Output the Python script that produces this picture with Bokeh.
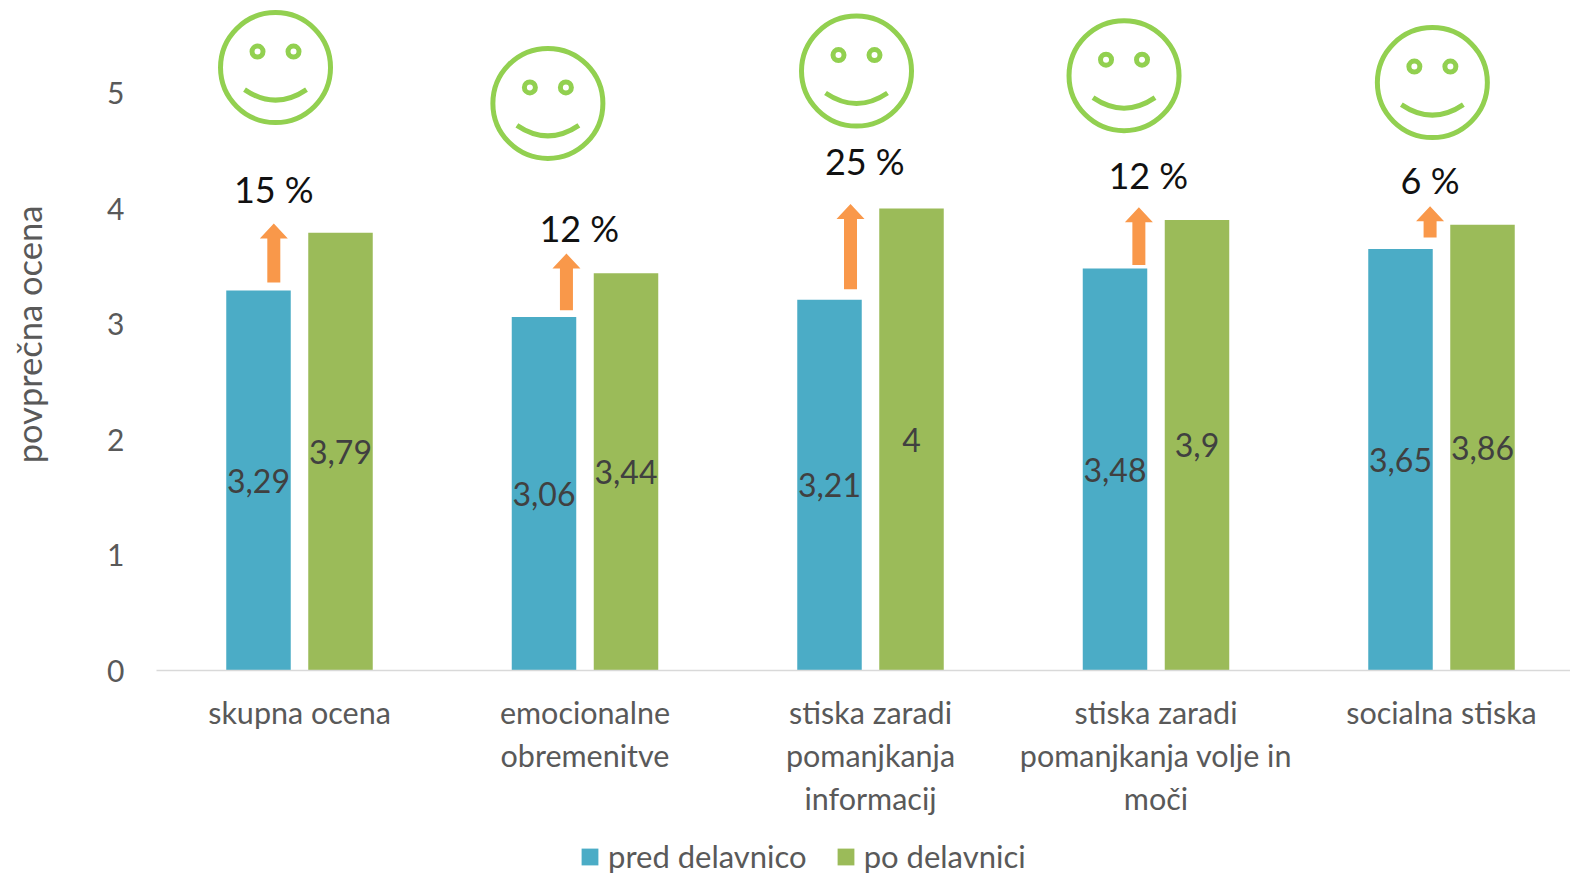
from bokeh.plotting import figure
from bokeh.embed import file_html
from bokeh.resources import INLINE
from bokeh.core.properties import value
from bokeh.models import Range1d, FixedTicker, Legend, LegendItem
import math

categories = ["skupna ocena", "emocionalne\nobremenitve", "stiska zaradi\npomanjkanja\ninformacij",
              "stiska zaradi\npomanjkanja volje in\nmoči", "socialna stiska"]
pred = [3.29, 3.06, 3.21, 3.48, 3.65]
po = [3.79, 3.44, 4, 3.9, 3.86]
pct = ["15 %", "12 %", "25 %", "12 %", "6 %"]
y_ticks = [0, 1, 2, 3, 4, 5]
y_title = "povprečna ocena"
arrow_base = [3.36, 3.12, 3.30, 3.51, 3.75]
arrow_tip = [3.87, 3.61, 4.04, 4.01, 4.02]
arrow_x = [-0.09, -0.065, -0.07, -0.06, -0.04]
pct_x = [-0.09, -0.02, -0.02, -0.027, -0.04]
pct_y = [4.17, 3.83, 4.41, 4.29, 4.25]
smile_x = [-0.084, -0.13, -0.049, -0.112, -0.032]
smile_y = [5.22, 4.91, 5.19, 5.15, 5.09]

BLUE, GREEN, ORANGE, SMILE = "#4BACC6", "#9BBB59", "#F9984A", "#92D050"
FONT = "Lato"
PX_X, PX_Y = 285.5, 115.5
idx = list(range(len(categories)))
X_LEFT = -143 / PX_X
X_RIGHT = (1570 - 299) / PX_X

p = figure(width=1570, height=875, output_backend="svg", toolbar_location=None,
           x_range=Range1d(-299 / PX_X, X_RIGHT),
           y_range=Range1d(-205 / PX_Y, 670 / PX_Y),
           min_border_left=0, min_border_right=0, min_border_top=0, min_border_bottom=0,
           outline_line_color=None, background_fill_color=None, border_fill_color=None)
p.grid.visible = False

off, w = 41 / PX_X, 64.5 / PX_X
b1 = p.vbar(x=[i - off for i in idx], top=pred, width=w, fill_color=BLUE, line_color=None)
b2 = p.vbar(x=[i + off for i in idx], top=po, width=w, fill_color=GREEN, line_color=None)

# value labels, centred in each bar
fmt = lambda v: str(v).replace(".", ",")
lab = dict(text_font=value(FONT), text_font_size="32px", text_color="#404040",
           text_align="center", text_baseline="middle")
p.text(x=[i - off for i in idx], y=[v / 2 for v in pred], text=[fmt(v) for v in pred], **lab)
p.text(x=[i + off for i in idx], y=[v / 2 for v in po], text=[fmt(v) for v in po], **lab)

# arrows
sw, hw, hh = 6.5 / PX_X, 14 / PX_X, 15 / PX_Y
ax, ay = [], []
for i, b, t, dx in zip(idx, arrow_base, arrow_tip, arrow_x):
    c = i + dx
    ax.append([c - sw, c + sw, c + sw, c + hw, c, c - hw, c - sw])
    ay.append([b, b, t - hh, t - hh, t, t - hh, t - hh])
p.patches(ax, ay, fill_color=ORANGE, line_color=None)

# percent labels
p.text(x=[i + d for i, d in zip(idx, pct_x)], y=pct_y, text=pct, text_font=value(FONT),
       text_font_size="36px", text_color="#111111", text_align="center", text_baseline="middle")

# smileys
sx = [i + d for i, d in zip(idx, smile_x)]
p.scatter(x=sx, y=smile_y, size=110, marker="circle", fill_color=None, line_color=SMILE, line_width=5)
ex = 18 / PX_X
ey = 16 / PX_Y
p.scatter(x=[c - ex for c in sx] + [c + ex for c in sx], y=[s + ey for s in smile_y] * 2,
          size=11, marker="circle", fill_color=None, line_color=SMILE, line_width=5)
mx = 31 / PX_X
p.quadratic(x0=[c - mx for c in sx], y0=[s - 22 / PX_Y for s in smile_y],
            x1=[c + mx for c in sx], y1=[s - 22 / PX_Y for s in smile_y],
            cx=sx, cy=[s - 43 / PX_Y for s in smile_y], line_color=SMILE, line_width=5)

# axes
xa, ya = p.xaxis[0], p.yaxis[0]
xa.fixed_location = 0
xa.bounds = (X_LEFT, X_RIGHT)
xa.ticker = FixedTicker(ticks=idx)
xa.major_label_overrides = {i: c for i, c in zip(idx, categories)}
xa.axis_line_color = "#D9D9D9"
xa.axis_line_width = 1.5
xa.major_tick_line_color = None
xa.minor_tick_line_color = None
xa.major_tick_out = 0
xa.minor_tick_out = 0
xa.major_label_text_font = FONT
xa.major_label_text_font_size = "30.5px"
xa.major_label_text_color = "#595959"
xa.major_label_standoff = 23

ya.fixed_location = X_LEFT
ya.ticker = FixedTicker(ticks=y_ticks)
ya.axis_line_color = None
ya.major_tick_line_color = None
ya.minor_tick_line_color = None
ya.major_tick_out = 0
ya.minor_tick_out = 0
ya.major_label_text_font = FONT
ya.major_label_text_font_size = "30px"
ya.major_label_text_color = "#595959"
ya.major_label_standoff = 32

# y axis title, beside the tick labels and centred on the 0-5.8 part of the scale
p.text(x=[(28 - 299) / PX_X], y=[336 / PX_Y], text=[y_title], angle=math.pi / 2,
       text_font=value(FONT), text_font_size="34.5px", text_color="#595959",
       text_align="center", text_baseline="middle")

legend = Legend(items=[LegendItem(label="pred delavnico", renderers=[b1]),
                       LegendItem(label="po delavnici", renderers=[b2])],
                location=(579, 0), orientation="horizontal", border_line_color=None,
                background_fill_color=None, glyph_width=21, glyph_height=21,
                label_text_font=FONT, label_text_font_size="31px", label_text_color="#595959",
                spacing=28, label_standoff=8, padding=0, margin=0)
p.add_layout(legend)

open("out.html", "w").write(file_html(p, INLINE))
